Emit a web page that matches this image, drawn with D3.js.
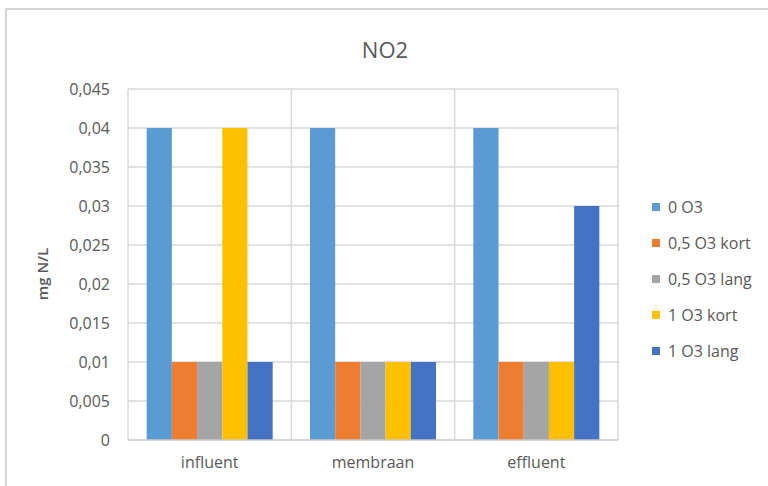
<!DOCTYPE html>
<html>
<head>
<meta charset="utf-8">
<script src="https://cdn.jsdelivr.net/npm/d3@7"></script>
<style>
  html, body { margin: 0; padding: 0; background: #fff; }
  svg { display: block; font-family: "Open Sans", "Liberation Sans", sans-serif; }
</style>
</head>
<body>
<svg id="chart" width="768" height="486"></svg>
<script>
// Sample points and O3 dosing variants
const categories = ["influent", "membraan", "effluent"];
const seriesNames = ["0 O3", "0,5 O3 kort", "0,5 O3 lang", "1 O3 kort", "1 O3 lang"];
const seriesColors = ["#5b9bd5", "#ed7d31", "#a5a5a5", "#ffc000", "#4472c4"];
// NO2 concentration (mg N/L) per series, one value per category
const s0O3 = [0.04, 0.04, 0.04];
const s05kort = [0.01, 0.01, 0.01];
const s05lang = [0.01, 0.01, 0.01];
const s1kort = [0.04, 0.01, 0.01];
const s1lang = [0.01, 0.01, 0.03];
const seriesValues = [s0O3, s05kort, s05lang, s1kort, s1lang];
const yTicks = [0, 0.005, 0.01, 0.015, 0.02, 0.025, 0.03, 0.035, 0.04, 0.045];

const svg = d3.select("#chart");
const textColor = "#595959";
const gridColor = "#d9d9d9";

// Outer chart frame
svg.append("rect")
  .attr("x", 6).attr("y", 9)
  .attr("width", 800).attr("height", 520)
  .attr("fill", "#fff")
  .attr("stroke", "#d6d6d6").attr("stroke-width", 2);

const plot = { left: 128, right: 618, top: 89, bottom: 440 };

const x0 = d3.scaleBand().domain(categories)
  .range([plot.left, plot.right]).paddingInner(0).paddingOuter(0);
const x1 = d3.scaleBand().domain(seriesNames)
  .range([0, x0.bandwidth()]).paddingInner(0).paddingOuter(0.74);
const y = d3.scaleLinear().domain([0, 0.045]).range([plot.bottom, plot.top]);

const fmt = v => d3.format("~g")(+v.toFixed(3)).replace(".", ",");

// Horizontal gridlines
svg.append("g").selectAll("line").data(yTicks.slice(1)).join("line")
  .attr("x1", plot.left).attr("x2", plot.right)
  .attr("y1", d => y(d)).attr("y2", d => y(d))
  .attr("stroke", gridColor).attr("stroke-width", 1.5);

// Vertical gridlines at category boundaries
const bounds = categories.map(c => x0(c)).concat([plot.right]);
svg.append("g").selectAll("line").data(bounds).join("line")
  .attr("x1", d => d).attr("x2", d => d)
  .attr("y1", plot.top).attr("y2", plot.bottom)
  .attr("stroke", gridColor).attr("stroke-width", 1.5);

// Bars
const groups = svg.append("g").selectAll("g").data(categories).join("g")
  .attr("transform", c => `translate(${x0(c)},0)`);
groups.selectAll("rect")
  .data((c, ci) => seriesNames.map((s, si) => ({ s, si, v: seriesValues[si][ci] })))
  .join("rect")
  .attr("x", d => x1(d.s))
  .attr("width", x1.bandwidth())
  .attr("y", d => y(d.v))
  .attr("height", d => y(0) - y(d.v))
  .attr("fill", d => seriesColors[d.si]);

// Category axis line
svg.append("line")
  .attr("x1", plot.left).attr("x2", plot.right)
  .attr("y1", plot.bottom).attr("y2", plot.bottom)
  .attr("stroke", "#c8c8c8").attr("stroke-width", 1.5);

// Y axis labels
const yAxis = d3.axisLeft(y).tickValues(yTicks).tickSize(0).tickPadding(18).tickFormat(fmt);
const gy = svg.append("g").attr("transform", `translate(${plot.left},0)`).call(yAxis);
gy.select(".domain").remove();
gy.selectAll("text")
  .attr("fill", textColor).attr("font-size", 16)
  .attr("font-family", "'Open Sans', sans-serif");

// Category labels
const xAxis = d3.axisBottom(x0).tickSize(0).tickPadding(17);
const gx = svg.append("g").attr("transform", `translate(0,${plot.bottom})`).call(xAxis);
gx.select(".domain").remove();
gx.selectAll("text")
  .attr("fill", textColor).attr("font-size", 16)
  .attr("font-family", "'Open Sans', sans-serif");

// Title
svg.append("text")
  .attr("x", 385).attr("y", 58)
  .attr("text-anchor", "middle")
  .attr("fill", textColor).attr("font-size", 22)
  .text("NO2");

// Y axis title
svg.append("text")
  .attr("transform", "translate(48,274) rotate(-90)")
  .attr("text-anchor", "middle")
  .attr("fill", textColor).attr("font-size", 15).attr("font-weight", 600)
  .text("mg N/L");

// Legend
const legend = svg.append("g").selectAll("g").data(seriesNames).join("g")
  .attr("transform", (d, i) => `translate(652,${207 + i * 36})`);
legend.append("rect")
  .attr("x", 0).attr("y", -4).attr("width", 8).attr("height", 8)
  .attr("fill", (d, i) => seriesColors[i]);
legend.append("text")
  .attr("x", 16).attr("y", 0).attr("dy", "0.35em")
  .attr("fill", textColor).attr("font-size", 16)
  .text(d => d);
</script>
</body>
</html>
